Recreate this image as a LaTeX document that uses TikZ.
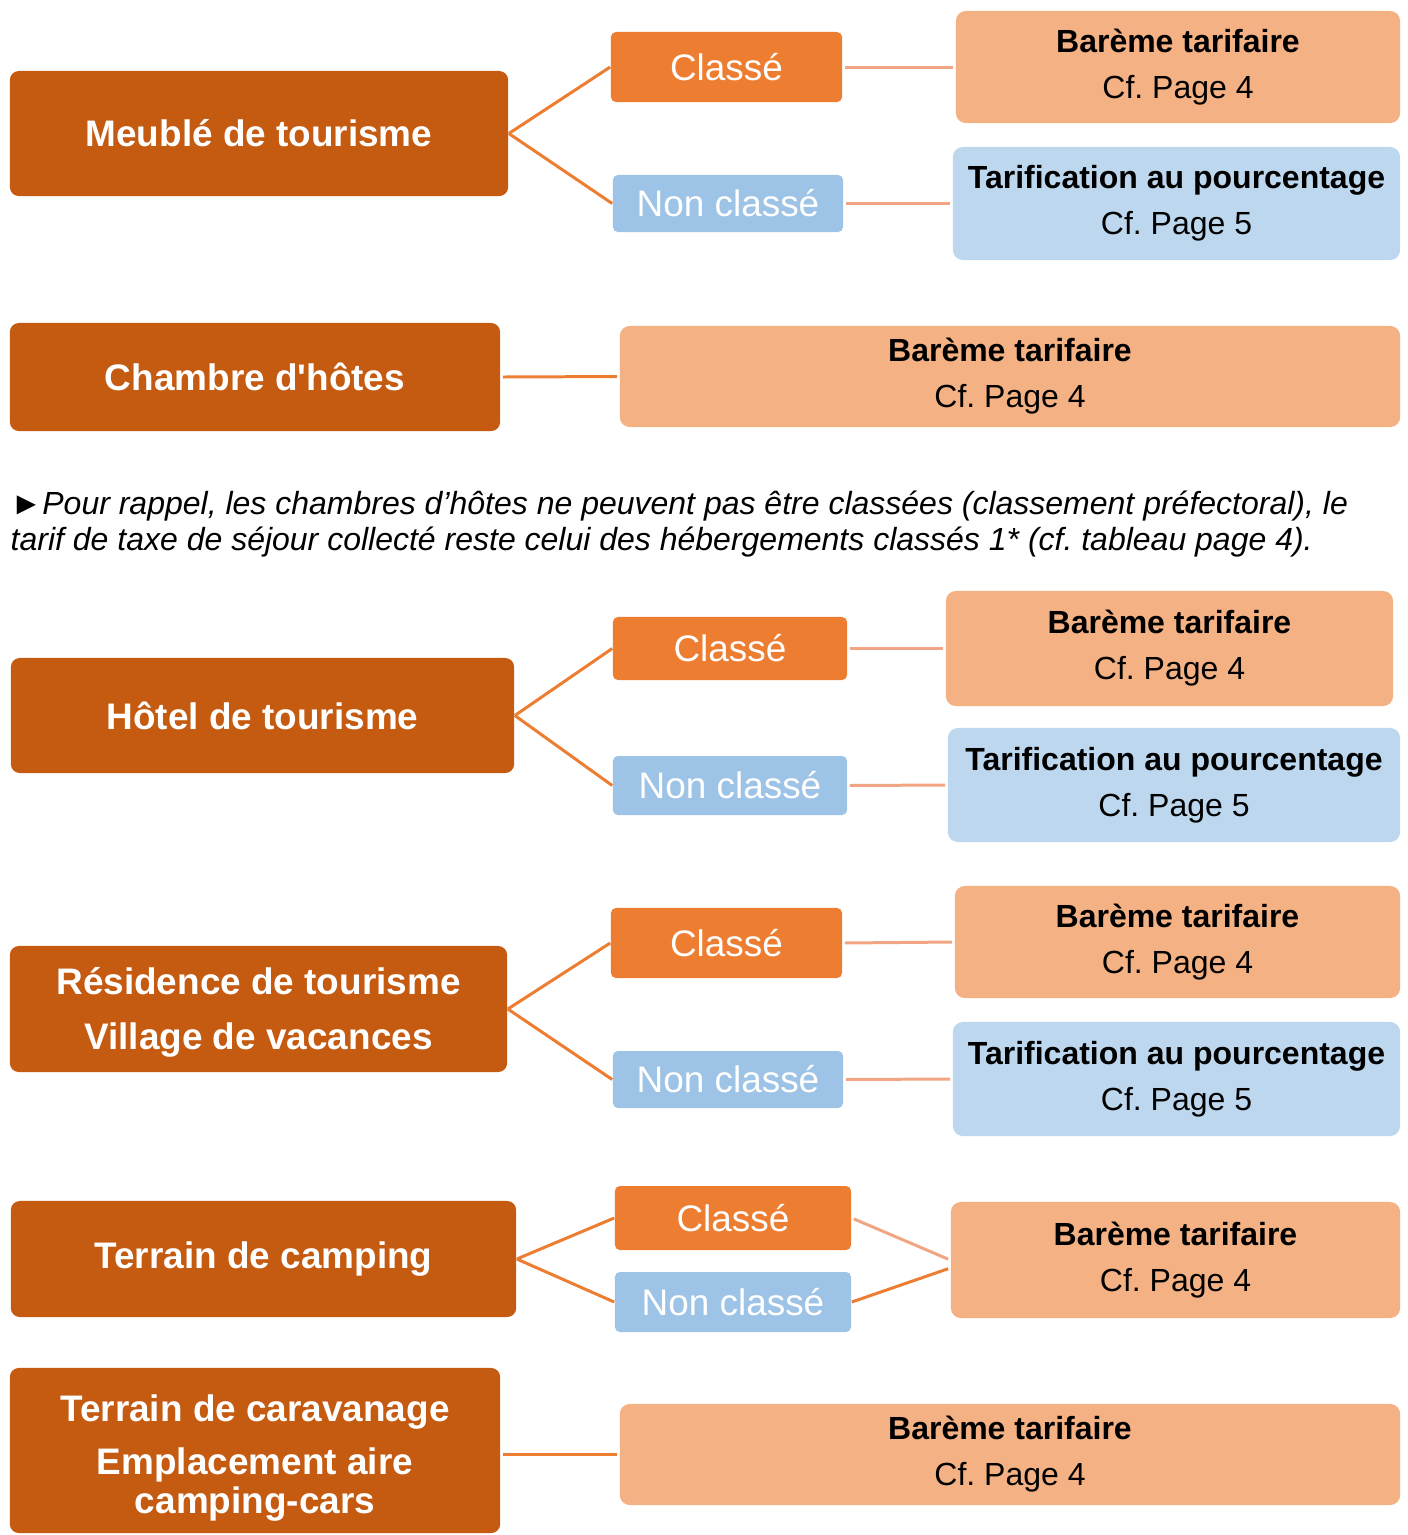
\documentclass[tikz,border=0pt]{standalone}
\usepackage{fontspec}
\setmainfont{Liberation Sans}
\frenchspacing
\definecolor{rouille}{HTML}{C55A11}
\definecolor{orangevif}{HTML}{ED7D31}
\definecolor{orangeclair}{HTML}{F4B183}
\definecolor{traitclair}{HTML}{F2A582}
\definecolor{bleu}{HTML}{9DC3E6}
\definecolor{bleuclair}{HTML}{BDD7EE}
\tikzset{
	typeheb/.style={fill=rouille, text=white, rounded corners=0.09cm, inner sep=0, align=center, font=\bfseries\fontsize{10.5}{11.1}\selectfont},
	classe/.style={fill=orangevif, text=white, rounded corners=0.05cm, inner sep=0, font=\fontsize{10.5}{12}\selectfont},
	nonclasse/.style={classe, fill=bleu},
	bareme/.style={fill=orangeclair, rounded corners=0.1cm, inner sep=0, align=center, font=\fontsize{9.1}{13.1}\selectfont},
	tarif/.style={bareme, fill=bleuclair},
	lien/.style={orangevif, line width=0.85pt},
	lienclair/.style={traitclair, line width=0.85pt}
}
\begin{document}
	\begin{tikzpicture}[x=0.01cm, y=-0.01cm]
		\useasboundingbox (0,0) rectangle (1408,1535);
		% meublé
		\node[typeheb, minimum width=4.98cm, minimum height=1.25cm] (meuble) at (259,133.5) {Meublé de tourisme};
		\node[classe, minimum width=2.31cm, minimum height=0.70cm] (classeA) at (726.5,67) {Classé};
		\node[nonclasse, minimum width=2.30cm, minimum height=0.57cm] (nonA) at (728,203.5) {Non classé};
		\node[bareme, minimum width=4.44cm, minimum height=1.12cm] (baremeA) at (1178,67) {\textbf{Barème tarifaire}\\Cf. Page 4};
		\node[tarif, minimum width=4.47cm, minimum height=1.13cm] (tarifA) at (1176.5,203.5) {\textbf{Tarification au pourcentage}\\Cf. Page 5};
		\draw[lien] (meuble.east) -- (classeA.west);
		\draw[lien] (meuble.east) -- (nonA.west);
		\draw[lienclair, shorten <=0.6pt, shorten >=0.6pt] (classeA.east) -- (baremeA.west);
		\draw[lienclair, shorten <=0.6pt, shorten >=0.6pt] (nonA.east) -- (tarifA.west);
		% chambre d'hôtes
		\node[typeheb, minimum width=4.90cm, minimum height=1.08cm] (chambre) at (255,377) {Chambre d\textquotesingle hôtes};
		\node[bareme, minimum width=7.80cm, minimum height=1.01cm] (baremeB) at (1010,376.5) {\textbf{Barème tarifaire}\\Cf. Page 4};
		\draw[lien, shorten <=0.6pt, shorten >=0.6pt] (chambre.east) -- (baremeB.west);
		\node[anchor=west, inner sep=0, align=left, font=\itshape\fontsize{9.1}{10.2}\selectfont] (rappel) at (10,524) {►Pour rappel, les chambres d’hôtes ne peuvent pas être classées (classement préfectoral), le\\tarif de taxe de séjour collecté reste celui des hébergements classés 1* (cf. tableau page 4).};
		% hôtel
		\node[typeheb, minimum width=5.03cm, minimum height=1.15cm] (hotel) at (262.5,715.5) {Hôtel de tourisme};
		\node[classe, minimum width=2.34cm, minimum height=0.63cm] (classeC) at (730,648.5) {Classé};
		\node[nonclasse, minimum width=2.34cm, minimum height=0.59cm] (nonC) at (730,785.5) {Non classé};
		\node[bareme, minimum width=4.47cm, minimum height=1.15cm] (baremeC) at (1169.5,648.5) {\textbf{Barème tarifaire}\\Cf. Page 4};
		\node[tarif, minimum width=4.52cm, minimum height=1.14cm] (tarifC) at (1174,785) {\textbf{Tarification au pourcentage}\\Cf. Page 5};
		\draw[lien] (hotel.east) -- (classeC.west);
		\draw[lien] (hotel.east) -- (nonC.west);
		\draw[lienclair, shorten <=0.6pt, shorten >=0.6pt] (classeC.east) -- (baremeC.west);
		\draw[lienclair, shorten <=0.6pt, shorten >=0.6pt] (nonC.east) -- (tarifC.west);
		% résidence
		\node[typeheb, minimum width=4.97cm, minimum height=1.26cm] (residence) at (258.5,1009) {\rule{0pt}{9.5pt}Résidence de tourisme\\[4.5pt]Village de vacances};
		\node[classe, minimum width=2.31cm, minimum height=0.70cm] (classeD) at (726.5,943) {Classé};
		\node[nonclasse, minimum width=2.30cm, minimum height=0.57cm] (nonD) at (728,1079.5) {Non classé};
		\node[bareme, minimum width=4.45cm, minimum height=1.12cm] (baremeD) at (1177.5,942) {\textbf{Barème tarifaire}\\Cf. Page 4};
		\node[tarif, minimum width=4.47cm, minimum height=1.14cm] (tarifD) at (1176.5,1079) {\textbf{Tarification au pourcentage}\\Cf. Page 5};
		\draw[lien] (residence.east) -- (classeD.west);
		\draw[lien] (residence.east) -- (nonD.west);
		\draw[lienclair, shorten <=0.6pt, shorten >=0.6pt] (classeD.east) -- (baremeD.west);
		\draw[lienclair, shorten <=0.6pt, shorten >=0.6pt] (nonD.east) -- (tarifD.west);
		% camping
		\node[typeheb, minimum width=5.05cm, minimum height=1.16cm] (camping) at (263.5,1259) {Terrain de camping};
		\node[classe, minimum width=2.36cm, minimum height=0.64cm] (classeE) at (733,1218) {Classé};
		\node[nonclasse, minimum width=2.36cm, minimum height=0.60cm] (nonE) at (733,1302) {Non classé};
		\node[bareme, minimum width=4.49cm, minimum height=1.16cm] (baremeE) at (1175.5,1260) {\textbf{Barème tarifaire}\\Cf. Page 4};
		\draw[lien] (camping.east) -- (classeE.west);
		\draw[lien] (camping.east) -- (nonE.west);
		\draw[lienclair, shorten <=0.6pt, shorten >=0.6pt] (classeE.east) -- (baremeE.west);
		\draw[lien, shorten >=0.6pt] (nonE.east) -- ([yshift=-0.08cm]baremeE.west);
		% caravanage
		\node[typeheb, minimum width=4.90cm, minimum height=1.65cm] (caravane) at (255,1450.5) {\rule{0pt}{11.7pt}Terrain de caravanage\\[4pt]Emplacement aire\\camping-cars};
		\node[bareme, minimum width=7.80cm, minimum height=1.01cm] (baremeF) at (1010,1454.5) {\textbf{Barème tarifaire}\\Cf. Page 4};
		\draw[lien, shorten <=0.6pt, shorten >=0.6pt] (caravane.east |- baremeF.west) -- (baremeF.west);
	\end{tikzpicture}
\end{document}
